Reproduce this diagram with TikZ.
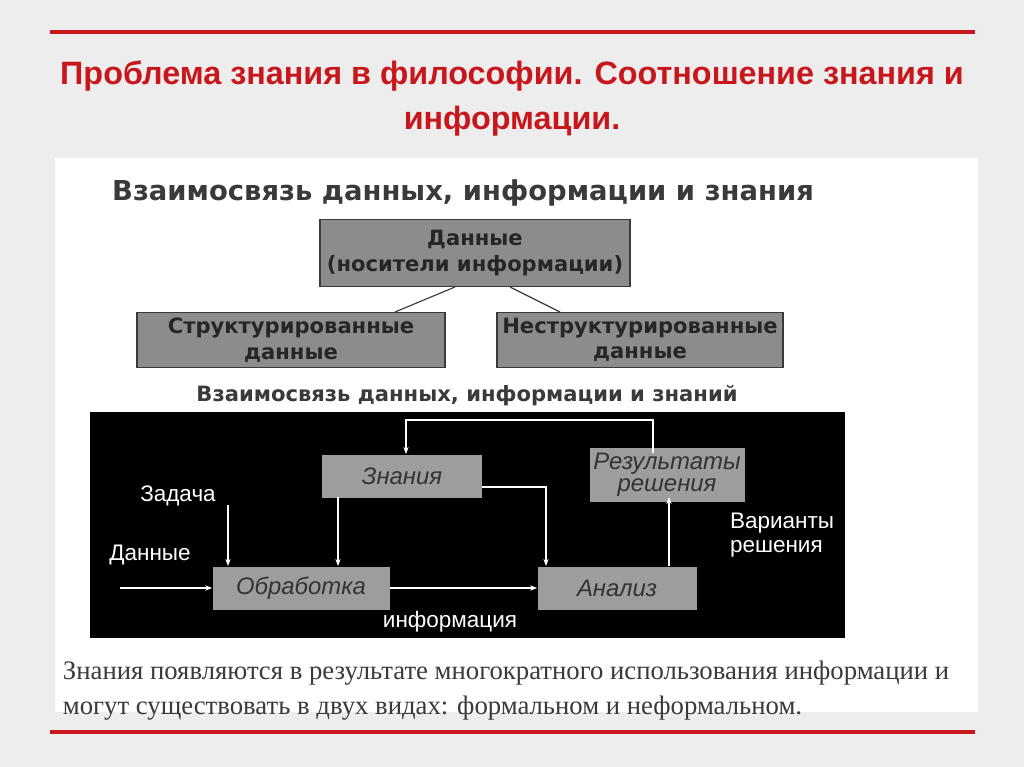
\documentclass[tikz,border=0pt]{standalone}
\usepackage{fontspec}
\setmainfont{Liberation Sans}
\newfontfamily\serifru{Liberation Serif}
\newfontfamily\wideru{DejaVu Sans}
\usetikzlibrary{arrows.meta}
\definecolor{titlered}{HTML}{C8161D}
\definecolor{boxgray}{HTML}{8C8C8C}
\definecolor{inkgray}{HTML}{3A3A3A}
\tikzset{
  topbox/.style={draw=inkgray, line width=1.2pt, fill=boxgray, align=center, text=black!85, font=\wideru\fontsize{15}{18}\selectfont\bfseries},
  darkbox/.style={fill=boxgray!85, align=center, text=black!80, font=\fontsize{17}{16}\selectfont\itshape},
  wire/.style={white, line width=0.8pt, -{Stealth[length=5pt]}},
  lbl/.style={white, font=\fontsize{16}{17}\selectfont, align=left}
}
\begin{document}
\begin{tikzpicture}[x=0.025cm, y=-0.025cm]
  \fill[black!7] (0,0) rectangle (1024,767);
  \useasboundingbox (0,0) rectangle (1024,767);
  \draw[titlered, line width=2.2pt] (50,32) -- (975,32);
  \draw[titlered, line width=2.2pt] (50,732) -- (975,732);
  \node[titlered, font=\fontsize{23}{32}\selectfont\bfseries, align=center] (title) at (512,98)
    {Проблема знания в философии. Соотношение знания и\\информации.};
  \fill[white] (55,158) rectangle (978,712);

  % upper scheme
  \node[inkgray, font=\wideru\fontsize{19.5}{22}\selectfont\bfseries] (head1) at (463,193) {Взаимосвязь данных, информации и знания};
  \node[topbox, minimum width=310*0.025cm, minimum height=67*0.025cm] (data) at (475,253) {Данные\\(носители информации)};
  \node[topbox, minimum width=308*0.025cm, minimum height=55*0.025cm] (struct) at (291,340) {Структурированные\\данные};
  \node[topbox, minimum width=286*0.025cm, minimum height=55*0.025cm] (unstruct) at (640,340) {Неструктурированные\\данные};
  \draw[inkgray, line width=0.8pt] (455,287) -- (395,312);
  \draw[inkgray, line width=0.8pt] (510,287) -- (560,312);

  % lower scheme
  \node[inkgray, font=\wideru\fontsize{15}{17}\selectfont\bfseries] (head2) at (467,396) {Взаимосвязь данных, информации и знаний};
  \fill[black] (90,412) rectangle (845,638);
  \node[darkbox, minimum width=160*0.025cm, minimum height=43*0.025cm] (know) at (402,476) {Знания};
  \node[darkbox, minimum width=155*0.025cm, minimum height=44*0.025cm, inner xsep=0pt] (result) at (667,475) {Результаты\\решения};
  \node[darkbox, minimum width=177*0.025cm, minimum height=43*0.025cm] (proc) at (301,588) {Обработка};
  \node[darkbox, minimum width=159*0.025cm, minimum height=43*0.025cm] (anal) at (617,588) {Анализ};
  \node[lbl] (task) at (178,496) {Задача};
  \node[lbl] (datain) at (150,555) {Данные};
  \node[lbl] (info) at (450,622) {информация};
  \node[lbl] (variants) at (782,535) {Варианты\\решения};
  \coordinate (taskend) at (228,505);
  \coordinate (dataend) at (120,588);
  \draw[wire] (taskend) -- (228,566);
  \draw[wire] (dataend) -- (proc.west);
  \draw[wire] (proc.east) -- (anal.west);
  \draw[wire] (338,497) -- (338,566);
  \draw[wire] (know.east |- 0,487) -| (546,566);
  \draw[wire] (669,566) -- (669,497);
  \draw[wire] (653,453) -- (653,420) -| (406,454);

  % footer text
  \node[inkgray, font=\serifru\fontsize{19}{25}\selectfont, align=left, anchor=north west] (note) at (58,656)
    {Знания появляются в результате многократного использования информации и\\могут существовать в двух видах: формальном и неформальном.};
\end{tikzpicture}
\end{document}
